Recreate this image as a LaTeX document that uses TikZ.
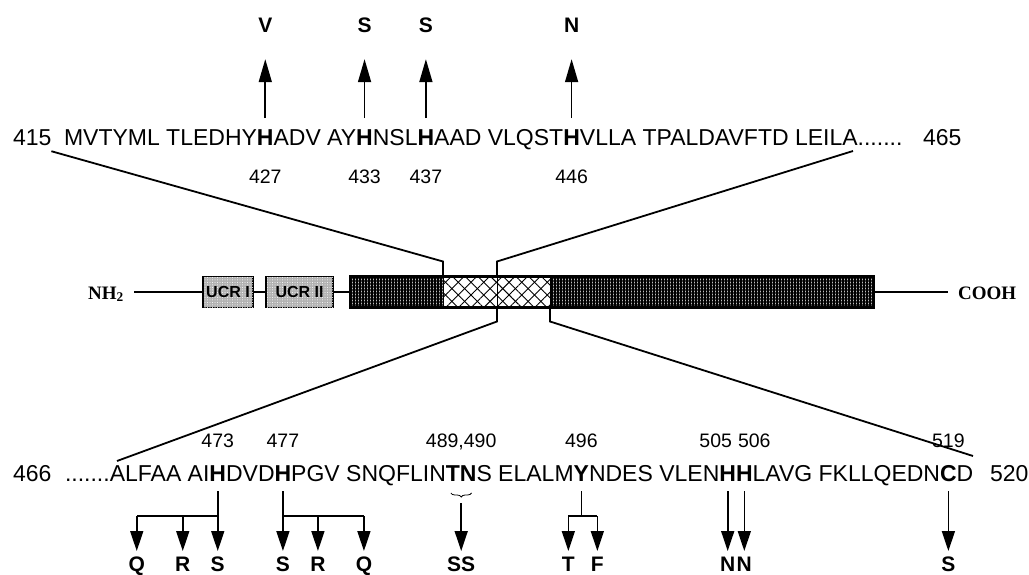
\documentclass[tikz,border=0pt]{standalone}
\usepackage{fontspec}
\setmainfont{Liberation Sans}
\newfontfamily\termfont{Liberation Serif}
\usetikzlibrary{arrows.meta,positioning,patterns,patterns.meta,decorations.pathreplacing,calc}

\begin{document}
\begin{tikzpicture}[
  x=1pt, y=-1pt,
  seq/.style={inner sep=0pt, outer sep=0pt, anchor=base west, font=\fontsize{23}{27}\selectfont},
  hit/.style={seq, font=\fontsize{23}{27}\selectfont\bfseries},
  num/.style={inner sep=0pt, anchor=base, font=\fontsize{19.5}{23}\selectfont},
  mut/.style={inner sep=0pt, anchor=base, font=\fontsize{21}{24}\selectfont\bfseries},
  term/.style={inner sep=0pt, anchor=base west, font=\fontsize{19}{22}\selectfont\termfont\bfseries},
  ucr/.style={draw, line width=1.3pt, outer sep=0pt, fill=gray!60, minimum height=31pt, inner sep=0pt,
    postaction={pattern={Dots[distance=2.5pt,radius=0.5pt]}, pattern color=white},
    font=\fontsize{16}{18}\selectfont\bfseries},
  cat/.style={draw, line width=1pt, outer sep=0pt, minimum height=31pt, inner sep=0pt, anchor=west, fill=black!25,
    postaction={pattern={Lines[angle=0,distance=3pt,line width=1.5pt]}},
    postaction={pattern={Lines[angle=90,distance=3pt,line width=1.5pt]}}},
  hatch/.style={draw, line width=1pt, outer sep=0pt, minimum height=31pt, inner sep=0pt, anchor=west, fill=white,
    postaction={pattern={Lines[angle=45,distance=9pt,line width=0.9pt]}},
    postaction={pattern={Lines[angle=-45,distance=9pt,line width=0.9pt]}}},
  stem/.style={line width=2.4pt},
  zoomline/.style={line width=1.8pt},
  uparr/.style={-{Triangle[length=23pt,width=13pt]}, line width=1.6pt},
  dnarr/.style={-{Triangle[length=20pt,width=13pt]}, line width=1.6pt},
  branch/.style={line width=1.6pt},
  tnbrace/.style={decorate, decoration={brace, amplitude=4pt, mirror}, line width=0.8pt},
]
\useasboundingbox[fill=white] (0,0) rectangle (1029,575);

% rows
\coordinate (mutrow) at (0,33);
\coordinate (numrow) at (0,184);
\coordinate (bnumrow) at (0,447);
\coordinate (brrow) at (0,516);
\coordinate (dnrow) at (0,551);
\coordinate (labrow) at (0,571);

% upper sequence 415-465
\node[seq] (n415) at (13,146) {415};
\node[seq] (t1) at (64,146) {MVTYML TLEDHY};
\node[hit] (h427) at (t1.base east) {H};
\node[seq] (t2) at (h427.base east) {ADV AY};
\node[hit] (h433) at (t2.base east) {H};
\node[seq] (t3) at (h433.base east) {NSL};
\node[hit] (h437) at (t3.base east) {H};
\node[seq] (t4) at (h437.base east) {AAD VLQST};
\node[hit] (h446) at (t4.base east) {H};
\node[seq] (t5) at (h446.base east) {VLLA TPALDAVFTD LEILA.......};
\node[seq] (n465) at (923,146) {465};

\foreach \r/\m/\n in {h427/V/427, h433/S/433, h437/S/437, h446/N/446} {
  \draw[uparr] ([yshift=12pt]\r.north) -- ++(0,-59);
  \node[mut] (m\n) at (\r |- mutrow) {\m};
  \node[num] (l\n) at (\r |- numrow) {\n};
}

% protein bar
\node[term] (nh2) at (88,299) {NH\textsubscript{2}};
\node[ucr, minimum width=50pt] (ucr1) at (228,292) {UCR I};
\node[ucr, minimum width=67pt] (ucr2) at (299.5,292) {UCR II};
\node[cat, minimum width=93pt] (cat1) at (350,292) {};
\node[hatch, minimum width=54pt] (hatch1) at (cat1.east) {};
\node[hatch, minimum width=53pt] (hatch2) at (hatch1.east) {};
\node[cat, minimum width=324pt] (cat2) at (hatch2.east) {};
\node[term] (cooh) at (958,299) {COOH};
\draw[line width=2.4pt] (cat1.north west) rectangle (cat2.south east);
\draw[stem, shorten >=10pt] (ucr1.west) -- (ucr1.west -| nh2.east);
\draw[stem] (ucr1.east) -- (ucr2.west);
\draw[stem] (ucr2.east) -- (cat1.west);
\draw[stem, shorten >=10pt] (cat2.east) -- (cat2.east -| cooh.west);

% zoom lines
\coordinate (topR) at (853,151);
\coordinate (botL) at (117,461);
\coordinate (botR) at (973,456);
\draw[zoomline] (hatch1.north west) -- ++(0,-15) -- ([yshift=-5pt]n415.south east);
\draw[zoomline] (hatch2.north west) -- ++(0,-15) -- (topR);
\draw[zoomline] (hatch2.south west) -- ++(0,14) -- (botL);
\draw[zoomline] (cat2.south west) -- ++(0,14) -- (botR);

% lower sequence 466-520
\node[seq] (n466) at (13,481) {466};
\node[seq] (b1) at (65,481) {.......ALFAA AI};
\node[hit] (h473) at (b1.base east) {H};
\node[seq] (b2) at (h473.base east) {DVD};
\node[hit] (h477) at (b2.base east) {H};
\node[seq] (b3) at (h477.base east) {PGV SNQFLIN};
\node[hit] (t489) at (b3.base east) {T};
\node[hit] (n490) at (t489.base east) {N};
\node[seq] (b4) at (n490.base east) {S ELALM};
\node[hit] (y496) at (b4.base east) {Y};
\node[seq] (b5) at (y496.base east) {NDES VLEN};
\node[hit] (h505) at (b5.base east) {H};
\node[hit] (h506) at (h505.base east) {H};
\node[seq] (b6) at (h506.base east) {LAVG FKLLQEDN};
\node[hit] (c519) at (b6.base east) {C};
\node[seq] (b7) at (c519.base east) {D};
\node[seq] (n520) at (990,481) {520};

% position numbers
\node[num] (l473) at (h473 |- bnumrow) {473};
\node[num] (l477) at (h477 |- bnumrow) {477};
\coordinate (tnmid) at ($(t489.south west)!0.5!(n490.south east)$);
\node[num] (l489) at (tnmid |- bnumrow) {489,490};
\node[num] (l496) at (y496 |- bnumrow) {496};
\node[num, xshift=-12pt] (l505) at (h505 |- bnumrow) {505};
\node[num, xshift=10pt] (l506) at (h506 |- bnumrow) {506};
\node[num] (l519) at (c519 |- bnumrow) {519};

% H473 -> Q R S
\draw[branch] ([yshift=-10pt]h473.south) -- (h473 |- brrow) -- ++(-81,0) coordinate (q473);
\path (h473 |- brrow) ++(-35,0) coordinate (r473);
\draw[dnarr] (h473 |- brrow) -- (h473 |- dnrow);
\draw[dnarr] (r473) -- (r473 |- dnrow);
\draw[dnarr] (q473) -- (q473 |- dnrow);
\node[mut] (m473q) at (q473 |- labrow) {Q};
\node[mut] (m473r) at (r473 |- labrow) {R};
\node[mut] (m473s) at (h473 |- labrow) {S};

% H477 -> S R Q
\draw[branch] ([yshift=-10pt]h477.south) -- (h477 |- brrow) -- ++(81,0) coordinate (q477);
\path (h477 |- brrow) ++(35,0) coordinate (r477);
\draw[dnarr] (h477 |- brrow) -- (h477 |- dnrow);
\draw[dnarr] (r477) -- (r477 |- dnrow);
\draw[dnarr] (q477) -- (q477 |- dnrow);
\node[mut] (m477s) at (h477 |- labrow) {S};
\node[mut] (m477r) at (r477 |- labrow) {R};
\node[mut] (m477q) at (q477 |- labrow) {Q};

% TN -> SS
\draw[tnbrace] ([xshift=5pt,yshift=-12pt]t489.south west) -- ([xshift=-5pt,yshift=-12pt]n490.south east);
\draw[dnarr] ([yshift=-22pt]tnmid) -- (tnmid |- dnrow);
\node[mut] (m489) at (tnmid |- labrow) {SS};

% Y496 -> T F
\draw[branch] ([yshift=-10pt]y496.south) -- (y496 |- brrow);
\path (y496 |- brrow) ++(-13,0) coordinate (t496) ++(29,0) coordinate (f496);
\draw[branch] (t496) -- (f496);
\draw[dnarr] (t496) -- (t496 |- dnrow);
\draw[dnarr] (f496) -- (f496 |- dnrow);
\node[mut] (m496t) at (t496 |- labrow) {T};
\node[mut] (m496f) at (f496 |- labrow) {F};

% single changes
\foreach \r/\m in {h505/N, h506/N, c519/S} {
  \draw[dnarr] ([yshift=-10pt]\r.south) -- (\r |- dnrow);
  \node[mut] (m\r) at (\r |- labrow) {\m};
}
\end{tikzpicture}
\end{document}
